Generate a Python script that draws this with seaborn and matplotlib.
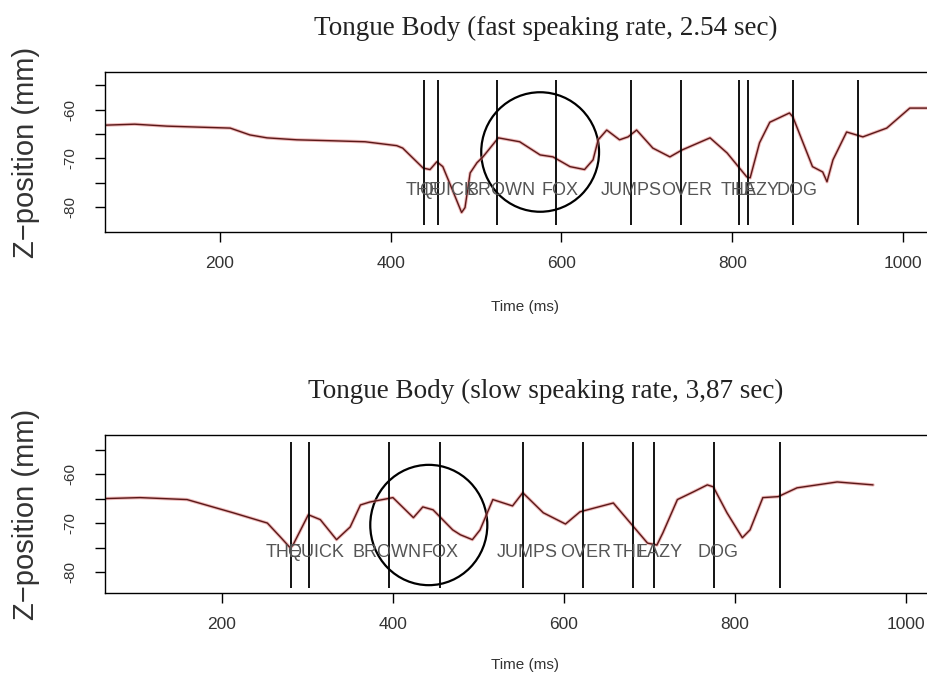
import numpy as np
import pandas as pd
import matplotlib
matplotlib.use("Agg")
import matplotlib.pyplot as plt
from matplotlib.patches import Ellipse
import seaborn as sns

# --- data ---
fast_ms = [65, 100, 138, 175, 212, 235, 255, 290, 332, 370, 407, 414, 438, 446, 454, 461, 473,
           483, 487, 493, 501, 508, 526, 551, 575, 590, 610, 627, 637, 643, 653, 668, 678, 688,
           707, 727, 741, 774, 794, 817, 821, 832, 844, 867, 871, 894, 906, 911, 918, 934, 953,
           981, 1008, 1030]
fast_z = [-63.2, -63.0, -63.4, -63.6, -63.8, -65.2, -65.8, -66.2, -66.4, -66.6, -67.4, -67.9, -72.0,
          -72.3, -70.7, -71.7, -76.8, -81.1, -80.1, -73.0, -70.9, -69.7, -65.8, -66.6, -69.3,
          -69.7, -71.7, -72.3, -70.3, -66.2, -64.2, -66.2, -65.6, -64.2, -67.9, -69.7, -68.3,
          -65.8, -68.9, -73.8, -74.0, -66.8, -62.6, -60.7, -61.5, -71.7, -72.8, -74.8, -70.3,
          -64.6, -65.6, -63.8, -59.7, -59.7]

slow_ms = [63, 104, 159, 213, 253, 268, 280, 283, 301, 315, 334, 350, 362, 373, 400, 424, 435,
           447, 470, 479, 493, 502, 517, 540, 552, 576, 602, 619, 658, 678, 698, 709, 716, 733,
           752, 768, 775, 791, 809, 818, 833, 851, 873, 920, 962]
slow_z = [-65.0, -64.8, -65.2, -67.9, -70.0, -72.8, -75.1, -74.5, -68.3, -69.3, -73.4, -70.8,
          -66.3, -65.7, -64.8, -68.9, -66.7, -67.3, -71.4, -72.4, -73.4, -71.4, -65.2, -66.5,
          -63.8, -67.9, -70.2, -67.7, -65.9, -70.0, -74.1, -74.5, -72.0, -65.2, -63.6, -62.2,
          -62.6, -67.9, -73.0, -71.4, -64.8, -64.6, -62.8, -61.6, -62.2]

fast_bounds = [439, 455, 525, 593, 681, 740, 808, 819, 871, 947]
slow_bounds = [281, 302, 396, 455, 552, 622, 681, 706, 776, 853]

words = ["THE", "QUICK", "BROWN", "FOX", "JUMPS", "OVER", "THE", "LAZY", "DOG"]
fast_word_ms = [438, 467, 529, 598, 682, 746, 807, 829, 876]
slow_word_ms = [272, 310, 393, 455, 557, 626, 678, 713, 781]

titles = ["Tongue Body (fast speaking rate, 2.54 sec)",
          "Tongue Body (slow speaking rate, 3,87 sec)"]

# --- style ---
sns.set_theme(style="ticks")
plt.rcParams['font.family'] = ['Liberation Sans', 'DejaVu Sans']
plt.rcParams['axes.linewidth'] = 1.0

fig = plt.figure(figsize=(9.28, 6.79), dpi=100)
W, H = 928, 679

panels = [
    dict(ms=fast_ms, z=fast_z, bounds=fast_bounds, wms=fast_word_ms, title=titles[0],
         box=(105, 72, 932, 232), xlim=(65.3, 1034), ylim=(-85.1, -52.3), xlab_top=300,
         vspan=(-83.7, -54.0), wy=-76.5, circ=(575, -68.7, 138, 24.5)),
    dict(ms=slow_ms, z=slow_z, bounds=slow_bounds, wms=slow_word_ms, title=titles[1],
         box=(105, 435, 932, 593), xlim=(63, 1031), ylim=(-84.3, -52.0), xlab_top=658,
         vspan=(-83.3, -53.4), wy=-76.1, circ=(442, -70.4, 137, 24.6)),
]

for p in panels:
    x0, y0, x1, y1 = p["box"]
    ax = fig.add_axes([x0 / W, 1 - y1 / H, (x1 - x0) / W, (y1 - y0) / H])
    df = pd.DataFrame({"Time": p["ms"], "Z": p["z"]})
    sns.lineplot(data=df, x="Time", y="Z", ax=ax, color="#e08080", lw=2.4, alpha=0.55)
    sns.lineplot(data=df, x="Time", y="Z", ax=ax, color="#5a1818", lw=1.0)

    ax.vlines(p["bounds"], p["vspan"][0], p["vspan"][1], color="black", lw=1.3)
    for w, xm in zip(words, p["wms"]):
        ax.text(xm, p["wy"], w, ha="center", va="center", fontsize=13, color="#555555")

    cx, cy, cw, ch = p["circ"]
    ax.add_patch(Ellipse((cx, cy), cw, ch, fill=False, ec="black", lw=1.6))

    ax.set_xlim(*p["xlim"])
    ax.set_ylim(*p["ylim"])
    ax.set_xticks([200, 400, 600, 800, 1000])
    ax.set_yticks([-80, -75, -70, -65, -60, -55])
    ax.set_yticklabels(["-80", "", "-70", "", "-60", ""], rotation=90, va="center")
    ax.tick_params(axis="x", labelsize=12.5, length=7, width=1, pad=10, colors="black",
                   labelcolor="#333333")
    ax.tick_params(axis="y", labelsize=11, length=7, width=1, pad=13, colors="black",
                   labelcolor="#333333")

    ax.set_xlabel("Time (ms)", fontsize=11, color="#333333")
    ax.set_ylabel("Z\u2212position (mm)", fontsize=21, color="#333333")
    ax.xaxis.set_label_coords((525 - x0) / (x1 - x0), -(p["xlab_top"] - y1) / (y1 - y0))
    ax.yaxis.set_label_coords((40 - x0) / (x1 - x0), 0.5)
    ax.text((546 - x0) / (x1 - x0), 1 + 37 / (y1 - y0), p["title"], transform=ax.transAxes,
            ha="center", va="baseline", fontsize=19.5, family=["Liberation Serif", "DejaVu Serif"],
            color="#222222")
    for s in ax.spines.values():
        s.set_color("black")

fig.savefig("out.png", dpi=100)
